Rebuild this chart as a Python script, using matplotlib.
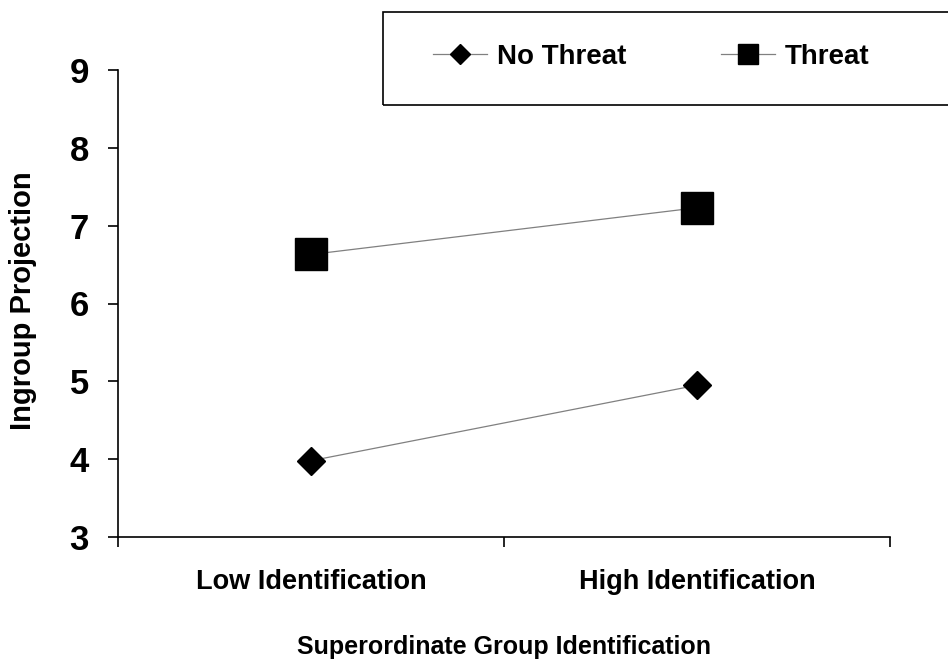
import matplotlib.pyplot as plt
from matplotlib.lines import Line2D
from matplotlib.patches import Rectangle

plt.rcParams['font.family'] = ['Liberation Sans', 'DejaVu Sans']
plt.rcParams['font.weight'] = 'bold'
plt.rcParams['axes.labelweight'] = 'bold'

categories = ["Low Identification", "High Identification"]
no_threat = [3.98, 4.95]
threat = [6.63, 7.23]
yticks = [3, 4, 5, 6, 7, 8, 9]

fig = plt.figure(figsize=(9.48, 6.65), dpi=100)
ax = fig.add_axes([118/948, 1 - 537/665, (890 - 118)/948, (537 - 70)/665])

xpos = [0.5, 1.5]
ax.plot(xpos, no_threat, color='#808080', lw=0.9, marker='D', ms=14,
        mfc='black', mec='black', zorder=3)
ax.plot(xpos, threat, color='#808080', lw=0.9, marker='s', ms=23,
        mfc='black', mec='black', zorder=3)

ax.set_xlim(0, 2)
ax.set_ylim(3, 9)
ax.set_yticks(yticks)
ax.tick_params(axis='y', labelsize=25, length=7, width=1.2, pad=14)

# boundary ticks at 0,1,2; category names sit between them
ax.set_xticks([0, 1, 2])
ax.set_xticklabels([])
ax.set_xticks(xpos, minor=True)
ax.set_xticklabels(categories, minor=True, fontsize=19.5)
ax.tick_params(axis='x', which='major', length=7, width=1.2)
ax.tick_params(axis='x', which='minor', length=0, pad=23)

for side in ['top', 'right']:
    ax.spines[side].set_visible(False)
for side in ['left', 'bottom']:
    ax.spines[side].set_linewidth(1.2)

ax.set_ylabel("Ingroup Projection", fontsize=21)
ax.yaxis.set_label_coords(-0.105, 0.505)
ax.set_xlabel("Superordinate Group Identification", fontsize=18, labelpad=29)

# legend box running off the right edge
fig.patches.append(Rectangle((383/948, 1 - 105/665), 0.7, 93/665,
                             transform=fig.transFigure, fill=False,
                             edgecolor='black', lw=1.2, figure=fig))
handles = [
    Line2D([], [], color='#808080', lw=0.9, marker='D', ms=10, mfc='black', mec='black'),
    Line2D([], [], color='#808080', lw=0.9, marker='s', ms=15, mfc='black', mec='black'),
]
fig.legend(handles, ["No Threat", "Threat"], loc='center left',
           bbox_to_anchor=(433/948, 1 - 57/665), ncol=2, frameon=False,
           fontsize=20, handlelength=1.95, handletextpad=0.35, columnspacing=3.4,
           borderpad=0, borderaxespad=0)

fig.savefig("out.png", dpi=100)
